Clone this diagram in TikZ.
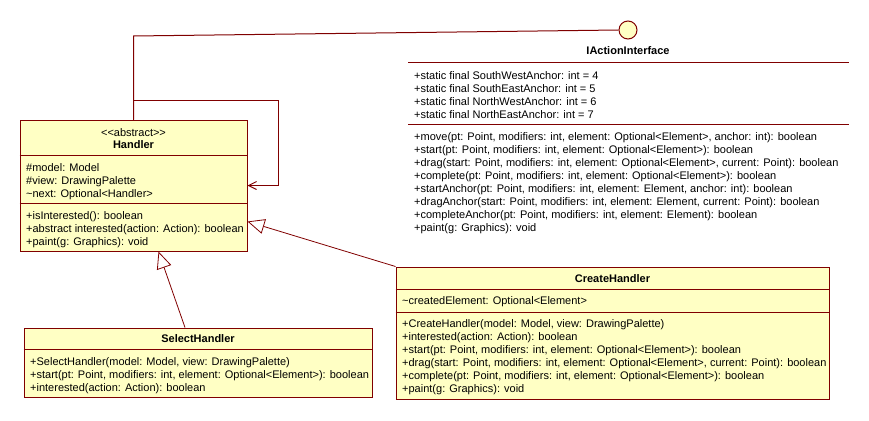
\documentclass[tikz,border=0pt]{standalone}
\usepackage{fontspec}
\setmainfont{Liberation Sans}
\usetikzlibrary{arrows.meta}
\definecolor{umlline}{RGB}{128,0,0}
\definecolor{umlfill}{RGB}{255,255,196}
\newcommand\umlfont{\fontsize{11}{13}\selectfont}
\begin{document}
\begin{tikzpicture}[x=1pt, y=-1pt,
		classbox/.style = {draw=umlline, fill=umlfill, line width=1pt, inner sep=0pt},
		members/.style = {anchor=north west, align=left, inner sep=0pt, font=\umlfont},
		title/.style = {anchor=north, align=center, inner sep=0pt, font=\umlfont},
		sep/.style = {draw=umlline, line width=1pt},
		gen/.style = {draw=umlline, line width=0.8pt, -{Triangle[open, length=17pt, width=15pt, fill=white]}},
		assoc/.style = {draw=umlline, line width=1pt, -{Straight Barb[length=8pt, width=8pt]}},
		real/.style = {draw=umlline, line width=1pt}]

		\useasboundingbox (0,0) rectangle (869,420);

		% interface
		\node[circle, draw=umlline, fill=umlfill, line width=1pt, minimum size=18pt, inner sep=0pt] (iface) at (628,30) {};
		\node[title] (ifacename) at (628,46.5) {\textbf{IActionInterface}};
		\draw[sep] (408,62) -- (849,62);
		\node[members] (ifaceattr) at (414,71) {+static final SouthWestAnchor: int = 4\\
			+static final SouthEastAnchor: int = 5\\
			+static final NorthWestAnchor: int = 6\\
			+static final NorthEastAnchor: int = 7};
		\draw[sep] (408,124) -- (849,124);
		\node[members] (ifaceops) at (414,132.5) {+move(pt: Point, modifiers: int, element: Optional<Element>, anchor: int): boolean\\
			+start(pt: Point, modifiers: int, element: Optional<Element>): boolean\\
			+drag(start: Point, modifiers: int, element: Optional<Element>, current: Point): boolean\\
			+complete(pt: Point, modifiers: int, element: Optional<Element>): boolean\\
			+startAnchor(pt: Point, modifiers: int, element: Element, anchor: int): boolean\\
			+dragAnchor(start: Point, modifiers: int, element: Element, current: Point): boolean\\
			+completeAnchor(pt: Point, modifiers: int, element: Element): boolean\\
			+paint(g: Graphics): void};

		% Handler
		\node[classbox, minimum width=227pt, minimum height=131pt] (handler) at (133.5,185.5) {};
		\node[title] (handlername) at (133.5,128.5) {<{}<abstract>{}>\\[-1pt]\textbf{Handler}};
		\draw[sep] (handler.west |- 0,155) -- (handler.east |- 0,155);
		\node[members] (handlerattr) at (26,163.5) {\#model: Model\\
			\#view: DrawingPalette\\
			\textasciitilde next: Optional<Handler>};
		\draw[sep] (handler.west |- 0,203) -- (handler.east |- 0,203);
		\node[members] (handlerops) at (26,211) {+isInterested(): boolean\\
			+abstract interested(action: Action): boolean\\
			+paint(g: Graphics): void};

		% SelectHandler
		\node[classbox, minimum width=348pt, minimum height=69pt] (select) at (198,362.5) {};
		\node[title] (selectname) at (198,334.5) {\textbf{SelectHandler}};
		\draw[sep] (select.west |- 0,349) -- (select.east |- 0,349);
		\node[members] (selectops) at (30,357.5) {+SelectHandler(model: Model, view: DrawingPalette)\\
			+start(pt: Point, modifiers: int, element: Optional<Element>): boolean\\
			+interested(action: Action): boolean};

		% CreateHandler
		\node[classbox, minimum width=433pt, minimum height=132pt] (create) at (612.5,333) {};
		\node[title] (createname) at (612.5,274.5) {\textbf{CreateHandler}};
		\draw[sep] (create.west |- 0,289) -- (create.east |- 0,289);
		\node[members] (createattr) at (402,296.5) {\textasciitilde createdElement: Optional<Element>};
		\draw[sep] (create.west |- 0,312) -- (create.east |- 0,312);
		\node[members] (createops) at (402,319) {+CreateHandler(model: Model, view: DrawingPalette)\\
			+interested(action: Action): boolean\\
			+start(pt: Point, modifiers: int, element: Optional<Element>): boolean\\
			+drag(start: Point, modifiers: int, element: Optional<Element>, current: Point): boolean\\
			+complete(pt: Point, modifiers: int, element: Optional<Element>): boolean\\
			+paint(g: Graphics): void};

		% connectors
		\coordinate (bendreal) at (133.5,36);
		\coordinate (bendloop) at (278,100);
		\draw[real] (handler.north) -- (bendreal) -- (iface.west);
		\draw[assoc] (handler.north) |- (bendloop) |- (handler.east);
		\draw[gen] ([xshift=-13pt]select.north) -- ([xshift=25pt]handler.south);
		\draw[gen] (create.north west) -- ([yshift=-36pt]handler.east);
\end{tikzpicture}
\end{document}
